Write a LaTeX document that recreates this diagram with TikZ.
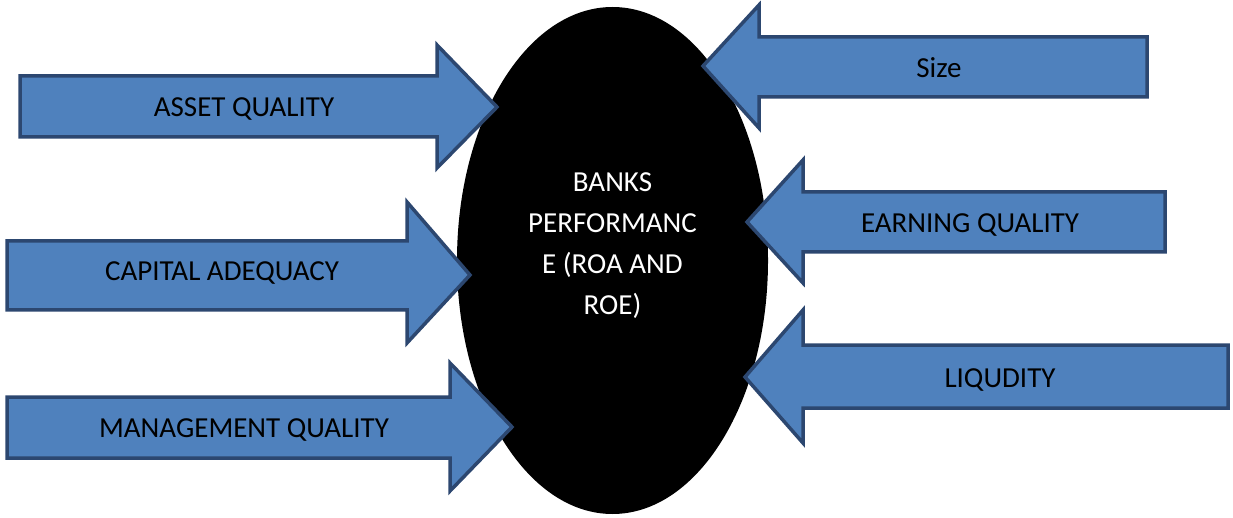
\documentclass[tikz,border=0pt]{standalone}
\usepackage{fontspec}
\setmainfont{Carlito}
\definecolor{arrowfill}{HTML}{4F81BD}
\definecolor{arrowline}{HTML}{2C4770}
\usetikzlibrary{shapes.geometric}
\tikzset{
  bigarrow/.style={fill=arrowfill, draw=arrowline, line width=3.5pt, line join=miter},
  arrowtext/.style={text=black, font=\fontsize{29}{35}\selectfont, inner sep=0pt, anchor=base},
  core/.style={ellipse, fill=black, draw=none, minimum width=311pt, minimum height=507pt, inner sep=0pt},
  coretext/.style={text=white, align=center, font=\fontsize{29}{41}\selectfont, inner sep=0pt}
}
\begin{document}
\begin{tikzpicture}[x=1pt, y=-1pt]
\useasboundingbox (0,0) rectangle (1233,518);
% central ellipse
\node[core] (bank) at (612.5,260.5) {};
\node[coretext, anchor=base] (banktext) at (612.5,315) {BANKS\\PERFORMANC\\E (ROA AND\\ROE)};
% left arrows (pointing right)
\draw[bigarrow] (20,76) -- (437,76) -- (437,45) -- (497,107) -- (437,168) -- (437,137) -- (20,137) -- cycle;
\node[arrowtext] (asset) at (244,117) {ASSET QUALITY};
\draw[bigarrow] (7,241) -- (407,241) -- (407,202) -- (470,275) -- (407,343) -- (407,310) -- (7,310) -- cycle;
\node[arrowtext] (capital) at (222,281) {CAPITAL ADEQUACY};
\draw[bigarrow] (7,397) -- (450,397) -- (450,363) -- (512,427) -- (450,491) -- (450,458) -- (7,458) -- cycle;
\node[arrowtext] (mgmt) at (244,437) {MANAGEMENT QUALITY};
% right arrows (pointing left)
\draw[bigarrow] (1147,37) -- (759,37) -- (759,5) -- (703,66) -- (759,128) -- (759,97) -- (1147,97) -- cycle;
\node[arrowtext] (size) at (939,78) {Size};
\draw[bigarrow] (1165,192) -- (803,192) -- (803,160) -- (747,222) -- (803,283) -- (803,252) -- (1165,252) -- cycle;
\node[arrowtext] (earning) at (970,233) {EARNING QUALITY};
\draw[bigarrow] (1228,345) -- (803,345) -- (803,310) -- (745,377) -- (803,443) -- (803,408) -- (1228,408) -- cycle;
\node[arrowtext] (liq) at (1000,387) {LIQUDITY};
\end{tikzpicture}
\end{document}
